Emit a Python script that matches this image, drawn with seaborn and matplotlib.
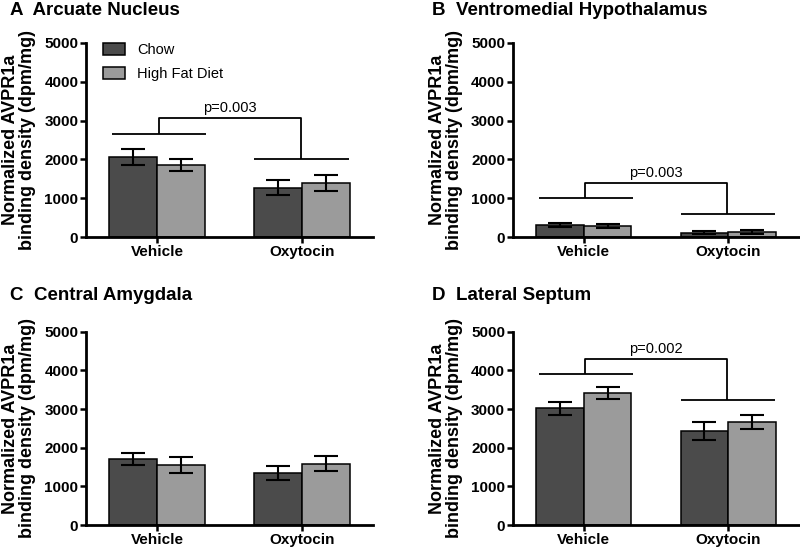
import matplotlib
matplotlib.use('Agg')
import matplotlib.pyplot as plt
import seaborn as sns
import pandas as pd

treatments = ['Vehicle', 'Oxytocin']
diets = ['Chow', 'High Fat Diet']

# means and SEM (dpm/mg)
arc_chow = [2060, 1270]
arc_hfd = [1850, 1390]
arc_chow_sem = [200, 190]
arc_hfd_sem = [150, 210]

vmh_chow = [310, 110]
vmh_hfd = [290, 130]
vmh_chow_sem = [60, 40]
vmh_hfd_sem = [60, 60]

cea_chow = [1700, 1340]
cea_hfd = [1550, 1590]
cea_chow_sem = [160, 180]
cea_hfd_sem = [200, 190]

ls_chow = [3020, 2440]
ls_hfd = [3410, 2670]
ls_chow_sem = [165, 230]
ls_hfd_sem = [150, 185]

panel_titles = ['A  Arcuate Nucleus', 'B  Ventromedial Hypothalamus',
                'C  Central Amygdala', 'D  Lateral Septum']
# (vehicle bar line, oxytocin bar line, bracket top, p text) or None
brackets = [(2650, 2020, 3060, 'p=0.003'),
            (1000, 590, 1390, 'p=0.003'),
            None,
            (3900, 3230, 4300, 'p=0.002')]

panels = [(arc_chow, arc_hfd, arc_chow_sem, arc_hfd_sem),
          (vmh_chow, vmh_hfd, vmh_chow_sem, vmh_hfd_sem),
          (cea_chow, cea_hfd, cea_chow_sem, cea_hfd_sem),
          (ls_chow, ls_hfd, ls_chow_sem, ls_hfd_sem)]

sns.set_style('ticks')
plt.rcParams['font.family'] = ['Liberation Sans', 'DejaVu Sans']
plt.rcParams['text.color'] = 'black'
plt.rcParams['axes.labelcolor'] = 'black'
plt.rcParams['xtick.color'] = 'black'
plt.rcParams['ytick.color'] = 'black'
plt.rcParams['axes.edgecolor'] = 'black'

fig = plt.figure(figsize=(8, 5.49), dpi=100)
rects = [[0.1075, 0.568, 0.359, 0.354],
         [0.641, 0.568, 0.358, 0.354],
         [0.1075, 0.0437, 0.359, 0.352],
         [0.641, 0.0437, 0.358, 0.352]]
title_pos = [(0.012, 0.981), (0.54, 0.981), (0.012, 0.461), (0.54, 0.461)]
palette = {'Chow': '#4b4b4b', 'High Fat Diet': '#9b9b9b'}

for i, (chow, hfd, chow_sem, hfd_sem) in enumerate(panels):
    ax = fig.add_axes(rects[i])
    df = pd.DataFrame({
        'treatment': treatments * 2,
        'diet': [diets[0]] * 2 + [diets[1]] * 2,
        'value': chow + hfd,
        'sem': chow_sem + hfd_sem,
    })
    sns.barplot(data=df, x='treatment', y='value', hue='diet', order=treatments,
                hue_order=diets, palette=palette, width=0.66, errorbar=None,
                edgecolor='black', linewidth=1.1, saturation=1, ax=ax, legend=(i == 0))
    for cont, sems in zip(ax.containers, [chow_sem, hfd_sem]):
        xs = [p.get_x() + p.get_width() / 2 for p in cont.patches]
        ys = [p.get_height() for p in cont.patches]
        ax.errorbar(xs, ys, yerr=sems, fmt='none', ecolor='black', elinewidth=1.5,
                    capsize=8.5, capthick=1.5, zorder=3)

    ax.set_xlim(-0.49, 1.49)
    ax.set_ylim(0, 5000)
    ax.set_yticks([0, 1000, 2000, 3000, 4000, 5000])
    ax.set_xlabel('')
    ax.set_ylabel('Normalized AVPR1a\nbinding density (dpm/mg)', fontsize=13,
                  fontweight='bold', linespacing=1.0)
    ax.yaxis.set_label_coords(-0.175, 0.5)
    for lab in ax.get_xticklabels() + ax.get_yticklabels():
        lab.set_fontweight('bold')
        lab.set_fontsize(11)
    ax.tick_params(axis='both', width=1.8, length=4, color='black', pad=1.5)
    sns.despine(ax=ax)
    ax.spines['left'].set_linewidth(2)
    ax.spines['bottom'].set_linewidth(2)

    if brackets[i] is not None:
        veh_y, oxy_y, top_y, ptxt = brackets[i]
        kw = dict(color='black', lw=1.3, solid_capstyle='butt')
        ax.plot([-0.31, 0.34], [veh_y, veh_y], **kw)
        ax.plot([0.67, 1.32], [oxy_y, oxy_y], **kw)
        ax.plot([0.01, 0.01, 0.99, 0.99], [veh_y, top_y, top_y, oxy_y], **kw)
        ax.text(0.5, top_y + 80, ptxt, ha='center', va='bottom', fontsize=10.5)

    if i == 0:
        handles, labels = ax.get_legend_handles_labels()
        for h in handles:
            h.set_edgecolor('black')
            h.set_linewidth(1.1)
        ax.legend(handles, labels, loc='upper left', bbox_to_anchor=(0.06, 1.0),
                  frameon=False, fontsize=10.5, handlelength=1.5, handleheight=0.85,
                  labelspacing=0.7, handletextpad=0.8, borderaxespad=0, borderpad=0)

    fig.text(title_pos[i][0], title_pos[i][1], panel_titles[i], fontsize=13.5,
             fontweight='bold', ha='left', va='center')

fig.savefig('out.png', dpi=100)
